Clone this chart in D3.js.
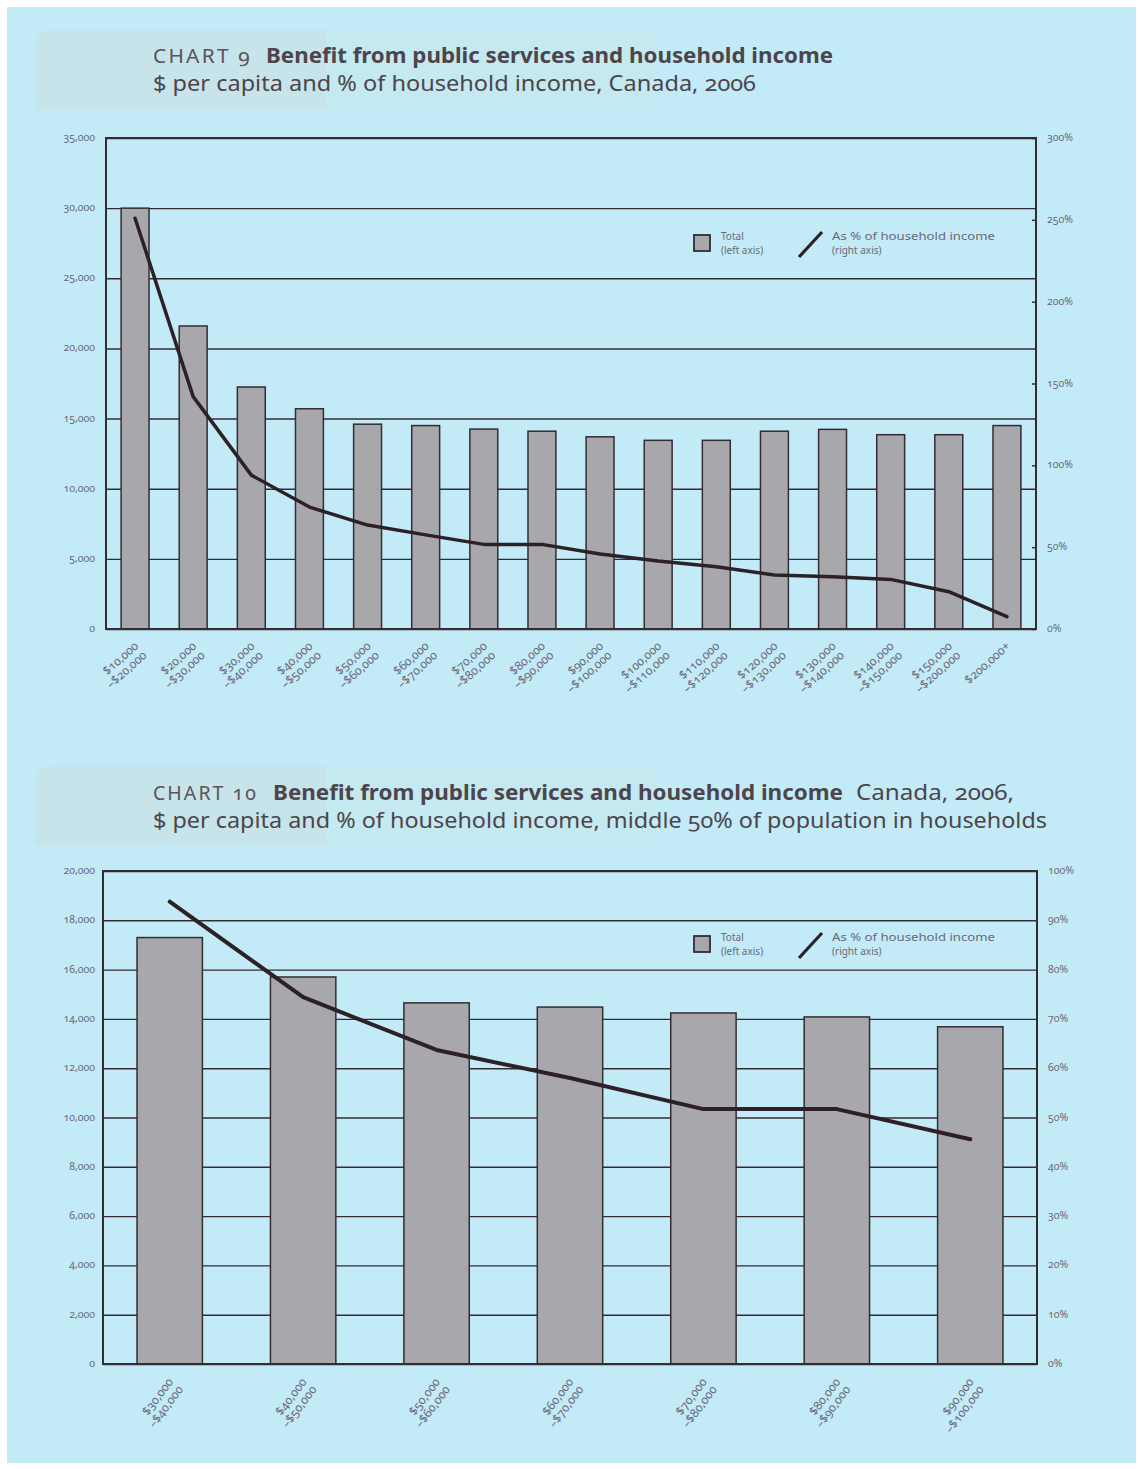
<!DOCTYPE html>
<html>
<head>
<meta charset="utf-8">
<script src="https://cdn.jsdelivr.net/npm/d3@7"></script>
<style>
  html, body { margin: 0; padding: 0; background: #fff; }
  svg { display: block; }
  text { font-family: "Noto Sans", "Open Sans", sans-serif; font-variant-numeric: oldstyle-nums; }
</style>
</head>
<body>
<svg id="page" width="1142" height="1469"></svg>
<script>
// ---- Data: Chart 9 (all income groups) ----
const incomeGroups9 = [
  ["$10,000", "–$20,000"], ["$20,000", "–$30,000"], ["$30,000", "–$40,000"],
  ["$40,000", "–$50,000"], ["$50,000", "–$60,000"], ["$60,000", "–$70,000"],
  ["$70,000", "–$80,000"], ["$80,000", "–$90,000"], ["$90,000", "–$100,000"],
  ["$100,000", "–$110,000"], ["$110,000", "–$120,000"], ["$120,000", "–$130,000"],
  ["$130,000", "–$140,000"], ["$140,000", "–$150,000"], ["$150,000", "–$200,000"],
  ["$200,000+"]
];
const totalPerCapita9 = [30000, 21600, 17250, 15700, 14600, 14500, 14250, 14100,
                         13700, 13450, 13450, 14100, 14230, 13850, 13850, 14500];
const pctOfIncome9 = [251, 142, 94, 74.5, 63.5, 57.5, 51.7, 51.7,
                      45.8, 41.5, 38, 33, 32, 30.3, 22.8, 7.5];
const leftTicks9 = [0, 5000, 10000, 15000, 20000, 25000, 30000, 35000];
const rightTicks9 = [0, 50, 100, 150, 200, 250, 300];

// ---- Data: Chart 10 (middle 50% of population) ----
const incomeGroups10 = [
  ["$30,000", "–$40,000"], ["$40,000", "–$50,000"], ["$50,000", "–$60,000"],
  ["$60,000", "–$70,000"], ["$70,000", "–$80,000"], ["$80,000", "–$90,000"],
  ["$90,000", "–$100,000"]
];
const totalPerCapita10 = [17300, 15700, 14650, 14480, 14240, 14080, 13680];
const pctOfIncome10 = [93.8, 74.4, 63.7, 58, 51.7, 51.7, 45.6];
const leftTicks10 = [0, 2000, 4000, 6000, 8000, 10000, 12000, 14000, 16000, 18000, 20000];
const rightTicks10 = [0, 10, 20, 30, 40, 50, 60, 70, 80, 90, 100];

const legendTotal = ["Total", "(left axis)"];
const legendPct = ["As % of household income", "(right axis)"];

// ---- Styles ----
const BG = "#c2ebf7";
const INK = "#352b32";
const BAR = "#a8a8ac";
const LABEL = "#6c6878";
const TITLE = "#4d454b";

const svg = d3.select("#page");
svg.append("rect").attr("x", 7).attr("y", 7).attr("width", 1129).attr("height", 1456).attr("fill", BG);

function titleBlock(y0, lines) {
  const g = svg.append("g");
  // soft tinted panel behind the heading
  g.append("path")
    .attr("d", `M35,${y0 + 80} L35,${y0 + 18} Q35,${y0} 55,${y0} L326,${y0} L326,${y0 + 80} Z`)
    .attr("fill", "#c6e4ea");
  g.append("rect").attr("x", 326).attr("y", y0).attr("width", 330).attr("height", 80).attr("fill", "#c4e9f0");
  lines.forEach(parts => {
    parts.forEach(p => {
      g.append("text")
        .attr("x", p.x).attr("y", p.y)
        .attr("textLength", p.w).attr("lengthAdjust", "spacingAndGlyphs")
        .attr("font-size", p.size)
        .attr("font-weight", p.bold ? 700 : 400)
        .attr("letter-spacing", p.ls || 0)
        .attr("fill", p.color || TITLE)
        .text(p.t);
    });
  });
}

titleBlock(30, [[
  { t: "CHART 9", x: 153, y: 63, w: 99, size: 19, ls: 2, color: "#5a5358" },
  { t: "Benefit from public services and household income", x: 266, y: 63, w: 567, size: 22, bold: true },
], [
  { t: "$ per capita and % of household income, Canada, 2006", x: 153, y: 91, w: 603, size: 22 }
]]);

titleBlock(765, [[
  { t: "CHART 10", x: 153, y: 800, w: 105, size: 19, ls: 2, color: "#5a5358" },
  { t: "Benefit from public services and household income", x: 273, y: 800, w: 570, size: 22, bold: true },
  { t: "Canada, 2006,", x: 856, y: 800, w: 158, size: 22 }
], [
  { t: "$ per capita and % of household income, middle 50% of population in households", x: 153, y: 828, w: 894, size: 22 }
]]);

function drawChart(cfg) {
  const { cats, totals, pcts, lTicks, rTicks, left, right, top, bottom,
          yMax, y2Max, padIn, padOut, rot, lineW, rightTickMarks, legendY, labelLeftX } = cfg;
  const g = svg.append("g");
  const idx = cats.map((d, i) => i);
  const x = d3.scaleBand().domain(idx).range([left, right]).paddingInner(padIn).paddingOuter(padOut);
  const y = d3.scaleLinear().domain([0, yMax]).range([bottom, top]);
  const y2 = d3.scaleLinear().domain([0, y2Max]).range([bottom, top]);

  // horizontal gridlines from the left axis
  const grid = g.append("g").attr("transform", `translate(${left},0)`)
    .call(d3.axisLeft(y).tickValues(lTicks).tickSize(-(right - left)).tickFormat(""));
  grid.select(".domain").remove();
  grid.selectAll("line").attr("stroke", INK).attr("stroke-width", 1.4);

  // left tick labels
  g.append("g").selectAll("text").data(lTicks).join("text")
    .attr("x", labelLeftX).attr("y", d => y(d) + 3)
    .attr("text-anchor", "end").attr("font-size", 10.5).attr("fill", LABEL)
    .text(d => d3.format(",")(d));

  // right tick labels
  g.append("g").selectAll("text").data(rTicks).join("text")
    .attr("x", right + 11).attr("y", d => y2(d) + 3)
    .attr("text-anchor", "start").attr("font-size", 10.5).attr("fill", LABEL)
    .text(d => d + "%");

  if (rightTickMarks) {
    g.append("g").attr("transform", `translate(${right},0)`)
      .call(d3.axisLeft(y2).tickValues(rTicks).tickSize(4).tickFormat(""))
      .call(a => a.select(".domain").remove())
      .selectAll("line").attr("stroke", INK).attr("stroke-width", 1.5);
  }

  // bars
  g.append("g").selectAll("rect").data(totals).join("rect")
    .attr("x", (d, i) => x(i)).attr("width", x.bandwidth())
    .attr("y", d => y(d)).attr("height", d => bottom - y(d))
    .attr("fill", BAR).attr("stroke", INK).attr("stroke-width", 1.5);

  // plot frame
  g.append("rect").attr("x", left).attr("y", top).attr("width", right - left).attr("height", bottom - top)
    .attr("fill", "none").attr("stroke", INK).attr("stroke-width", 2);

  // share-of-income line
  const line = d3.line().x((d, i) => x(i) + x.bandwidth() / 2).y(d => y2(d));
  g.append("path").datum(pcts).attr("d", line)
    .attr("fill", "none").attr("stroke", "#2d2027").attr("stroke-width", lineW)
    .attr("stroke-linejoin", "round").attr("stroke-linecap", "round");

  // rotated category labels
  const lab = g.append("g").selectAll("g").data(cats).join("g")
    .attr("transform", (d, i) => `translate(${x(i) + x.bandwidth() / 2 + 4},${bottom + 18}) rotate(${rot})`);
  lab.each(function (d) {
    const t = d3.select(this).append("text").attr("text-anchor", "end")
      .attr("font-size", 12).attr("fill", LABEL);
    d.forEach((s, k) => t.append("tspan").attr("x", 0).attr("y", k * 12.5).text(s));
  });

  // legend
  const lg = g.append("g").attr("transform", `translate(693,${legendY})`);
  lg.append("rect").attr("x", 1).attr("y", 0).attr("width", 16).attr("height", 16)
    .attr("fill", BAR).attr("stroke", INK).attr("stroke-width", 1.8);
  legendTotal.forEach((s, k) => lg.append("text").attr("x", 28).attr("y", 5 + k * 13.5)
    .attr("font-size", 10).attr("fill", LABEL).text(s));
  lg.append("line").attr("x1", 106).attr("y1", 22).attr("x2", 129).attr("y2", -3)
    .attr("stroke", "#2d2027").attr("stroke-width", 3.2);
  legendPct.forEach((s, k) => lg.append("text").attr("x", 139).attr("y", 5 + k * 13.5)
    .attr("font-size", 10).attr("fill", LABEL)
    .attr("textLength", k === 0 ? 163 : null).attr("lengthAdjust", "spacingAndGlyphs").text(s));
}

drawChart({
  cats: incomeGroups9, totals: totalPerCapita9, pcts: pctOfIncome9,
  lTicks: leftTicks9, rTicks: rightTicks9,
  left: 106, right: 1036, top: 138, bottom: 629,
  yMax: 35000, y2Max: 300, padIn: 0.52, padOut: 0.26, rot: -42, lineW: 3.5,
  rightTickMarks: true, legendY: 235, labelLeftX: 95
});

drawChart({
  cats: incomeGroups10, totals: totalPerCapita10, pcts: pctOfIncome10,
  lTicks: leftTicks10, rTicks: rightTicks10,
  left: 103, right: 1037, top: 871, bottom: 1364,
  yMax: 20000, y2Max: 100, padIn: 0.51, padOut: 0.255, rot: -53, lineW: 4,
  rightTickMarks: false, legendY: 936, labelLeftX: 95
});
</script>
</body>
</html>
